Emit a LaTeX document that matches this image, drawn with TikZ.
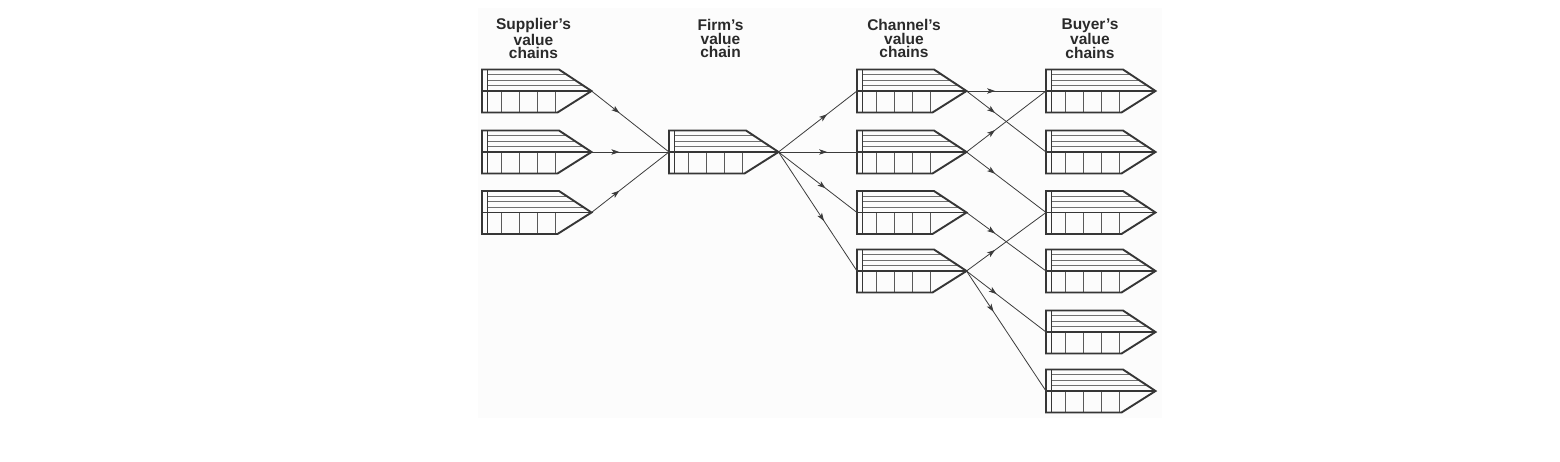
\documentclass[tikz,border=0pt]{standalone}
\usepackage{fontspec}
\setmainfont{Liberation Sans}
\usetikzlibrary{arrows.meta,decorations.markings}
\definecolor{ink}{HTML}{363636}
\definecolor{textink}{HTML}{2A2A2A}
\definecolor{thinln}{HTML}{707070}
\definecolor{divln}{HTML}{5A5A5A}
\definecolor{conncol}{HTML}{3C3C3C}
\tikzset{
  vcanchor/.style={inner sep=0pt, outer sep=0pt, minimum width=109.5pt, minimum height=43pt},
  vcframe/.style={draw=ink, line width=1.9pt, line join=miter},
  vcmid/.style={draw=ink, line width=1.9pt},
  vcthin/.style={draw=thinln, line width=0.9pt},
  vcdiv/.style={draw=divln, line width=1.2pt},
  conn/.style={draw=conncol, line width=0.8pt},
  arrowat/.style={postaction={decorate},
    decoration={markings, mark=at position #1 with {\arrow{Stealth[length=8pt,width=5.5pt,inset=2pt]}}}},
  lab/.style={align=center, inner sep=0pt, text=textink,
    font=\bfseries\fontsize{15.5}{13.5}\selectfont},
}
\newcommand\vchain[3]{%
  \node[vcanchor, anchor=west] (#1) at (#2,#3) {};
  \begin{scope}[shift={(#1.west)}]
    \draw[vcthin] (5.5,-16.1) -- (85.2,-16.1);
    \draw[vcthin] (5.5,-10.75) -- (93.2,-10.75);
    \draw[vcthin] (5.5,-5.4) -- (101.3,-5.4);
    \foreach \dx in {19.5,37.5,55.5,73.5}{\draw[vcdiv] (\dx,0) -- (\dx,21.5);}
    \draw[vcmid] (0,0) -- (109.5,0);
    \draw[vcframe] (0,-21.5) -- (77,-21.5) -- (109.5,0) -- (75.5,21.5) -- (0,21.5) -- cycle;
    \draw[vcframe] (5.5,-21.5) -- (5.5,21.5);
  \end{scope}
}
\begin{document}
\begin{tikzpicture}[x=1pt,y=-1pt]
\useasboundingbox (0,0) rectangle (1560,462);
\fill[black!1] (478,8) rectangle (1162,418);

% labels
\node[lab] (ls) at (533.5,38.5) {Supplier’s\\value\\chains};
\node[lab] (lf) at (720.5,38.5) {Firm’s\\value\\chain};
\node[lab] (lc) at (904,38.5) {Channel’s\\value\\chains};
\node[lab] (lb) at (1090,38.5) {Buyer’s\\value\\chains};

% value chains
\vchain{s1}{482}{91}
\vchain{s2}{482}{152}
\vchain{s3}{482}{212.5}
\vchain{f}{669}{152}
\vchain{c1}{857}{91}
\vchain{c2}{857}{152}
\vchain{c3}{857}{212.5}
\vchain{c4}{857}{271}
\vchain{b1}{1046}{91}
\vchain{b2}{1046}{152}
\vchain{b3}{1046}{212.5}
\vchain{b4}{1046}{271}
\vchain{b5}{1046}{332}
\vchain{b6}{1046}{391}

% connectors
\draw[conn, arrowat=0.36] (s1.east) -- (f.west);
\draw[conn, arrowat=0.36] (s2.east) -- (f.west);
\draw[conn, arrowat=0.36] (s3.east) -- (f.west);
\draw[conn, arrowat=0.62] (f.east) -- (c1.west);
\draw[conn, arrowat=0.62] (f.east) -- (c2.west);
\draw[conn, arrowat=0.6] (f.east) -- (c3.west);
\draw[conn, arrowat=0.58] (f.east) -- (c4.west);
\draw[conn, arrowat=0.36] (c1.east) -- (b1.west);
\draw[conn, arrowat=0.36] (c1.east) -- (b2.west);
\draw[conn, arrowat=0.36] (c2.east) -- (b1.west);
\draw[conn, arrowat=0.36] (c2.east) -- (b3.west);
\draw[conn, arrowat=0.36] (c3.east) -- (b4.west);
\draw[conn, arrowat=0.36] (c4.east) -- (b3.west);
\draw[conn, arrowat=0.38] (c4.east) -- (b5.west);
\draw[conn, arrowat=0.34] (c4.east) -- (b6.west);
\end{tikzpicture}
\end{document}
